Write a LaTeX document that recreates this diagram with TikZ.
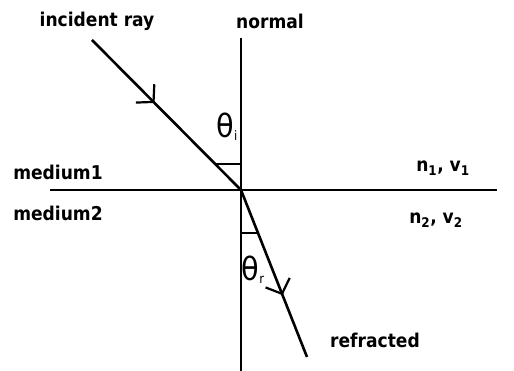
\documentclass[tikz,border=0pt]{standalone}
\usepackage{fontspec}
\setmainfont{DejaVu Sans Condensed}
\usetikzlibrary{arrows.meta,decorations.markings}
\tikzset{
  ray/.style={line width=2.6pt},
  thin line/.style={line width=2.3pt},
  lbl/.style={inner sep=0pt, font=\fontsize{19}{19}\selectfont\bfseries},
  midarrow/.style={postaction={decorate},decoration={markings,
    mark=at position #1 with {\arrow{Straight Barb[length=12pt,width=26pt,line width=2.2pt]}}}}
}
\begin{document}
\begin{tikzpicture}[x=1pt,y=1pt]
\useasboundingbox (0,0) rectangle (514,371);
\coordinate (O) at (241,181);
\coordinate (Ntop) at (241,333);
\coordinate (Nbot) at (241,0);
\coordinate (Il) at (50,181);
\coordinate (Ir) at (497,181);
\coordinate (S) at (92,331);
\coordinate (E) at (307,14);
\coordinate (ai) at (215,207);
\coordinate (aiN) at (241,207);
\coordinate (ar) at (258,138);
\coordinate (arN) at (241,138);
% normal and interface
\draw[thin line] (Ntop) -- (Nbot);
\draw[thin line] (Il) -- (Ir);
% rays
\draw[ray, midarrow=0.42] (S) -- (O);
\draw[ray, midarrow=0.63] (O) -- (E);
% angle marks
\draw[thin line] (ai) -- (aiN);
\draw[thin line] (ar) -- (arN);
% labels
\node[lbl] (tinc) at (97,350) {incident ray};
\node[lbl] (tnorm) at (270,350) {normal};
\node[lbl] (tm1) at (58,199) {medium1};
\node[lbl] (tm2) at (58,158) {medium2};
\node[lbl] (tn1) at (443,203) {n\textsubscript{1}, v\textsubscript{1}};
\node[lbl] (tn2) at (436,151) {n\textsubscript{2}, v\textsubscript{2}};
\node[lbl] (tref) at (375,31) {refracted};
\node[inner sep=0pt] (thi) at (227,244) {{\fontsize{32}{32}\selectfont θ}\raisebox{-3pt}{\fontsize{13}{13}\selectfont i}};
\node[inner sep=0pt] (thr) at (253,101) {{\fontsize{32}{32}\selectfont θ}\raisebox{-3pt}{\fontsize{13}{13}\selectfont r}};
\end{tikzpicture}
\end{document}
